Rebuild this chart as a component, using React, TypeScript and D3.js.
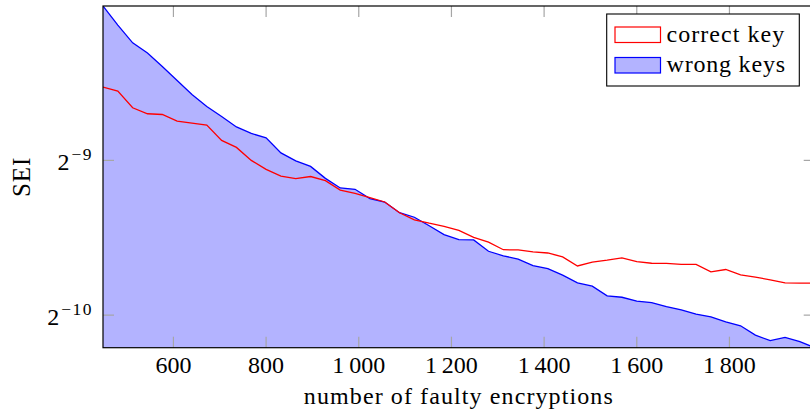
import React from 'react';
import * as d3 from 'd3';

const faultyEncryptions = [
  448, 480, 512, 544, 576, 608, 640, 672, 704, 736, 768, 800, 832, 864, 896, 928, 960,
  992, 1024, 1056, 1088, 1120, 1152, 1184, 1216, 1248, 1280, 1312, 1344, 1376, 1408,
  1440, 1472, 1504, 1536, 1568, 1600, 1632, 1664, 1696, 1728, 1760, 1792, 1824, 1856,
  1888, 1920, 1952, 1984,
];

const wrongKeys = [
  0.0039, 0.00358, 0.003306, 0.003159, 0.002974, 0.002793, 0.002624, 0.002487, 0.002378,
  0.002269, 0.002204, 0.00216, 0.00202, 0.001949, 0.001901, 0.001802, 0.001726, 0.001716,
  0.001646, 0.001621, 0.001545, 0.001514, 0.001457, 0.001401, 0.001369, 0.001368, 0.0013,
  0.001274, 0.001255, 0.001219, 0.001203, 0.001168, 0.001128, 0.001112, 0.001065, 0.001058,
  0.00104, 0.001033, 0.001015, 0.001, 0.000981, 0.000969, 0.000948, 0.000931, 0.000893,
  0.000871, 0.000884, 0.000867, 0.000844,
];

const correctKey = [
  0.002711, 0.002663, 0.002472, 0.002407, 0.002399, 0.002328, 0.002308, 0.002287, 0.002136,
  0.00207, 0.001953, 0.001876, 0.001821, 0.0018, 0.001817, 0.001784, 0.00171, 0.001685,
  0.001653, 0.001621, 0.001545, 0.001497, 0.001474, 0.001454, 0.001428, 0.001384, 0.001354,
  0.001309, 0.001308, 0.001296, 0.00129, 0.001268, 0.001217, 0.001238, 0.001249, 0.001262,
  0.001241, 0.001232, 0.001231, 0.001226, 0.001226, 0.001185, 0.001198, 0.00117, 0.001158,
  0.001144, 0.001128, 0.001127, 0.001127,
];

const xTicks = [600, 800, 1000, 1200, 1400, 1600, 1800];
const yTickExponents = [-9, -10];
const seriesNames = ['correct key', 'wrong keys'];
const xLabel = 'number of faulty encryptions';
const yLabel = 'SEI';

const W = 810;
const H = 412;
const left = 103;
const right = 814.7;
const top = 6;
const bottom = 347.7;
const FONT = "'Liberation Serif', 'Times New Roman', serif";
const TICK_LEN = 11;
const TICK_COLOR = '#a6a6a6';

const fmt = (v: number) => {
  const s = String(v);
  return s.length > 3 ? s.slice(0, s.length - 3) + '\u2009' + s.slice(s.length - 3) : s;
};

export default function App() {
  const x = d3
    .scaleLinear()
    .domain(d3.extent(faultyEncryptions) as [number, number])
    .range([left, right]);
  const y = d3
    .scaleLog()
    .base(2)
    .domain([d3.min(wrongKeys) as number, d3.max(wrongKeys) as number])
    .range([bottom, top]);

  const wrongPts: [number, number][] = faultyEncryptions.map((d, i) => [d, wrongKeys[i]]);
  const correctPts: [number, number][] = faultyEncryptions.map((d, i) => [d, correctKey[i]]);

  const line = d3
    .line<[number, number]>()
    .x((d) => x(d[0]))
    .y((d) => y(d[1]));
  const area = d3
    .area<[number, number]>()
    .x((d) => x(d[0]))
    .y0(bottom)
    .y1((d) => y(d[1]));

  const fmtStr = (s: string) => s.replace('-', '\u2212');
  const ts = { fontFamily: FONT };

  return (
    <svg
      width={W}
      height={H}
      style={{ position: 'fixed', left: 0, top: 0, background: '#fff', fontFamily: FONT }}
    >
      <defs>
        <clipPath id="plotclip">
          <rect x={left} y={top} width={right - left} height={bottom - top} />
        </clipPath>
      </defs>
      <g clipPath="url(#plotclip)">
        <path d={area(wrongPts) || ''} fill="#b3b3ff" stroke="none" />
        <path d={line(wrongPts) || ''} fill="none" stroke="#0000ff" strokeWidth={1.3} />
        <path d={line(correctPts) || ''} fill="none" stroke="#ff0000" strokeWidth={1.3} />
      </g>

      {xTicks.map((t) => (
        <g key={'xt' + t}>
          <line x1={x(t)} x2={x(t)} y1={bottom} y2={bottom - TICK_LEN} stroke={TICK_COLOR} strokeWidth={1.2} />
          <line x1={x(t)} x2={x(t)} y1={top} y2={top + TICK_LEN} stroke={TICK_COLOR} strokeWidth={1.2} />
          <text x={x(t)} y={bottom + 25} textAnchor="middle" fontSize={24} fill="#000" style={ts}>
            {fmt(t)}
          </text>
        </g>
      ))}
      {yTickExponents.map((e) => {
        const yy = y(Math.pow(2, e));
        return (
          <g key={'yt' + e}>
            <line x1={left} x2={left + TICK_LEN} y1={yy} y2={yy} stroke={TICK_COLOR} strokeWidth={1.2} />
            <line x1={right} x2={right - TICK_LEN} y1={yy} y2={yy} stroke={TICK_COLOR} strokeWidth={1.2} />
            <text x={93} y={yy + 10} textAnchor="end" fill="#000" style={ts}>
              <tspan fontSize={24}>2</tspan>
              <tspan fontSize={17.5} dy={-10} dx={2} letterSpacing={1.5}>
                {fmtStr(String(e))}
              </tspan>
            </text>
          </g>
        );
      })}

      <rect x={left} y={top} width={right - left} height={bottom - top} fill="none" stroke="#000" strokeWidth={1.2} />

      <text
        x={(left + right) / 2}
        y={404}
        textAnchor="middle"
        fontSize={24}
        letterSpacing={1.1}
        fill="#000"
        style={ts}
      >
        {xLabel}
      </text>
      <text
        transform={`translate(30,${(top + bottom) / 2}) rotate(-90)`}
        textAnchor="middle"
        fontSize={25}
        letterSpacing={1}
        fill="#000"
        style={ts}
      >
        {yLabel}
      </text>

      <g>
        <rect x={606.7} y={14} width={192.6} height={72} fill="#fff" stroke="#000" strokeWidth={1.1} />
        <rect x={615} y={27} width={45.5} height={15.5} fill="none" stroke="#ff0000" strokeWidth={1.2} />
        <text x={666.5} y={41.7} fontSize={24} letterSpacing={1.05} fill="#000" style={ts}>
          {seriesNames[0]}
        </text>
        <rect x={615} y={57.5} width={45.5} height={15.5} fill="#b3b3ff" stroke="#0000ff" strokeWidth={1.2} />
        <text x={666.5} y={71.7} fontSize={24} letterSpacing={0.8} fill="#000" style={ts}>
          {seriesNames[1]}
        </text>
      </g>
    </svg>
  );
}
